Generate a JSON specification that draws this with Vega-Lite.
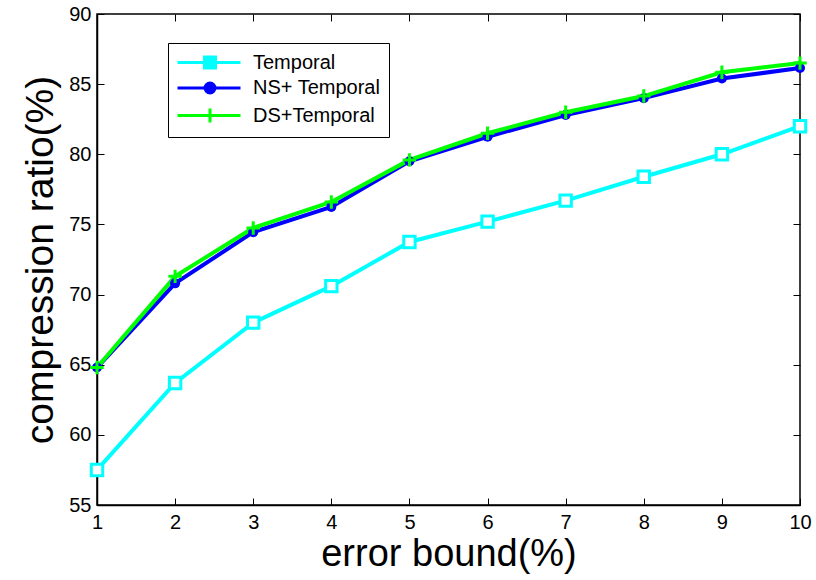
{
  "$schema": "https://vega.github.io/schema/vega-lite/v6.json",
  "autosize": "none",
  "width": 703,
  "height": 491,
  "padding": {"left": 97, "top": 14, "right": 16, "bottom": 75},
  "background": "white",
  "config": {
    "view": {"stroke": "black", "strokeWidth": 1.5},
    "font": "Liberation Sans",
    "axis": {"grid": false, "domainColor": "black", "tickColor": "black", "labelColor": "black", "titleColor": "black", "labelFont": "Liberation Sans", "titleFont": "Liberation Sans", "titleFontWeight": "normal"}
  },
  "data": {"values": [
    {"x": 1, "y": 57.5, "s": "Temporal"},
    {"x": 2, "y": 63.7, "s": "Temporal"},
    {"x": 3, "y": 68.0, "s": "Temporal"},
    {"x": 4, "y": 70.6, "s": "Temporal"},
    {"x": 5, "y": 73.75, "s": "Temporal"},
    {"x": 6, "y": 75.2, "s": "Temporal"},
    {"x": 7, "y": 76.7, "s": "Temporal"},
    {"x": 8, "y": 78.4, "s": "Temporal"},
    {"x": 9, "y": 80.0, "s": "Temporal"},
    {"x": 10, "y": 82.0, "s": "Temporal"},
    {"x": 1, "y": 64.8, "s": "NS+ Temporal"},
    {"x": 2, "y": 70.8, "s": "NS+ Temporal"},
    {"x": 3, "y": 74.45, "s": "NS+ Temporal"},
    {"x": 4, "y": 76.25, "s": "NS+ Temporal"},
    {"x": 5, "y": 79.5, "s": "NS+ Temporal"},
    {"x": 6, "y": 81.25, "s": "NS+ Temporal"},
    {"x": 7, "y": 82.8, "s": "NS+ Temporal"},
    {"x": 8, "y": 84.0, "s": "NS+ Temporal"},
    {"x": 9, "y": 85.4, "s": "NS+ Temporal"},
    {"x": 10, "y": 86.15, "s": "NS+ Temporal"},
    {"x": 1, "y": 64.8, "s": "DS+Temporal"},
    {"x": 2, "y": 71.3, "s": "DS+Temporal"},
    {"x": 3, "y": 74.75, "s": "DS+Temporal"},
    {"x": 4, "y": 76.6, "s": "DS+Temporal"},
    {"x": 5, "y": 79.6, "s": "DS+Temporal"},
    {"x": 6, "y": 81.5, "s": "DS+Temporal"},
    {"x": 7, "y": 83.0, "s": "DS+Temporal"},
    {"x": 8, "y": 84.15, "s": "DS+Temporal"},
    {"x": 9, "y": 85.85, "s": "DS+Temporal"},
    {"x": 10, "y": 86.5, "s": "DS+Temporal"}
  ]},
  "resolve": {"axis": {"x": "independent", "y": "independent"}},
  "layer": [
    {
      "mark": {"type": "line", "strokeWidth": 4},
      "encoding": {
        "x": {"field": "x", "type": "quantitative", "scale": {"domain": [1, 10], "nice": false, "zero": false},
          "axis": {"values": [1,2,3,4,5,6,7,8,9,10], "title": "error bound(%)", "titleFontSize": 38, "titlePadding": 3, "labelFontSize": 20, "tickSize": -7, "labelPadding": 14, "labelFlush": false, "domainWidth": 1.5, "tickWidth": 1}},
        "y": {"field": "y", "type": "quantitative", "scale": {"domain": [55, 90], "nice": false, "zero": false},
          "axis": {"values": [55,60,65,70,75,80,85,90], "title": "compression ratio(%)", "titleFontSize": 39, "titlePadding": 8, "labelFontSize": 20, "tickSize": -7, "labelPadding": 13, "domainWidth": 1.5, "tickWidth": 1}},
        "color": {"field": "s", "type": "nominal",
          "scale": {"domain": ["Temporal", "NS+ Temporal", "DS+Temporal"], "range": ["#00ffff", "#0000ff", "#00ff00"]},
          "legend": {
            "title": null, "orient": "none", "legendX": 71, "legendY": 29,
            "strokeColor": "black", "fillColor": "white", "padding": 8,
            "symbolSize": 400, "labelFontSize": 20, "labelColor": "black", "labelOffset": 54, "rowPadding": 2.5,
            "symbolType": "M-1,0H5.3",
            "encode": {"symbols": {"update": {
              "shape": {"signal": "datum.value === 'Temporal' ? 'M-1,0H1.7M2.8,0H5.3M1.7,-0.55H2.8V0.55H1.7Z' : datum.value === 'NS+ Temporal' ? 'M-1,0H5.3M2.25,-0.5A0.5,0.5,0,1,1,2.25,0.5A0.5,0.5,0,1,1,2.25,-0.5Z' : 'M-1,0H5.3M2.25,-0.7V0.7'"},
              "fill": {"signal": "datum.value === 'NS+ Temporal' ? '#0000ff' : datum.value === 'Temporal' ? 'white' : 'transparent'"},
              "stroke": {"signal": "scale('color', datum.value)"},
              "strokeWidth": {"value": 3},
              "opacity": {"value": 1}
            }}}
          }},
        "order": {"field": "x"}
      }
    },
    {
      "transform": [{"filter": "datum.s === 'Temporal'"}],
      "mark": {"type": "point", "shape": "square", "size": 130, "strokeWidth": 3, "opacity": 1, "fill": "white", "filled": false},
      "encoding": {
        "x": {"field": "x", "type": "quantitative", "axis": {"orient": "top", "values": [1,2,3,4,5,6,7,8,9,10], "labels": false, "title": null, "domain": false, "tickSize": -7, "tickWidth": 1}},
        "y": {"field": "y", "type": "quantitative", "axis": {"orient": "right", "values": [55,60,65,70,75,80,85,90], "labels": false, "title": null, "domain": false, "tickSize": -7, "tickWidth": 1}},
        "color": {"field": "s", "type": "nominal"}
      }
    },
    {
      "transform": [{"filter": "datum.s === 'NS+ Temporal'"}],
      "mark": {"type": "point", "shape": "circle", "size": 100, "strokeWidth": 1, "opacity": 1, "filled": true},
      "encoding": {
        "x": {"field": "x", "type": "quantitative", "axis": null},
        "y": {"field": "y", "type": "quantitative", "axis": null},
        "color": {"field": "s", "type": "nominal"}
      }
    },
    {
      "transform": [{"filter": "datum.s === 'DS+Temporal'"}],
      "mark": {"type": "point", "shape": "M-1,0H1M0,-1V1", "size": 180, "strokeWidth": 3, "opacity": 1, "filled": false},
      "encoding": {
        "x": {"field": "x", "type": "quantitative", "axis": null},
        "y": {"field": "y", "type": "quantitative", "axis": null},
        "color": {"field": "s", "type": "nominal"}
      }
    }
  ]
}
